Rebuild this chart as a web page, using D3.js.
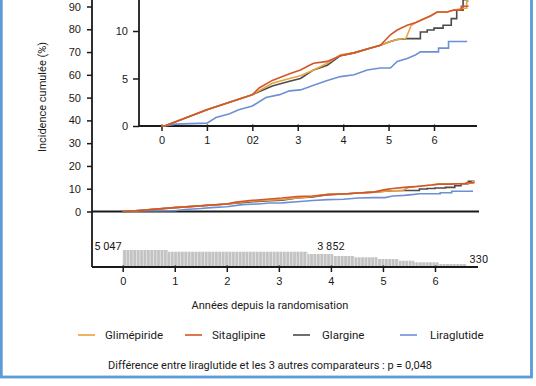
<!DOCTYPE html>
<html>
<head>
<meta charset="utf-8">
<script src="https://cdn.jsdelivr.net/npm/d3@7"></script>
<style>
body { margin: 0; background: #fff; }
svg { display: block; font-family: Roboto, "DejaVu Sans", sans-serif; }
</style>
</head>
<body>
<div id="chart"></div>
<script>
// cumulative incidence (%) by year since randomisation
let glimepiride = [[0,0],[0.07,0],[1,1.7],[2,3.3],[2.44,4.5],[2.82,5.0],[3.06,5.3],[3.35,5.9],[3.65,6.6],[3.94,7.5],[4.24,7.7],[4.53,8.1],[4.82,8.5],[5.04,8.9],[5.19,9.1],[5.38,9.2],[5.5,10.6],[5.6,10.9],[5.93,11.6],[6.07,12.0],[6.29,12.0],[6.44,12.2],[6.66,12.4],[6.72,12.4],[6.72,13.1],[6.76,13.1]];
let sitagliptine = [[0,0],[0.07,0],[1,1.7],[2,3.3],[2.15,4.0],[2.44,4.8],[2.82,5.5],[3.06,5.9],[3.26,6.4],[3.35,6.6],[3.65,6.8],[3.94,7.4],[4.24,7.7],[4.53,8.1],[4.82,8.5],[5.04,9.6],[5.19,10.1],[5.41,10.6],[5.6,10.9],[5.93,11.6],[6.07,12.0],[6.29,12.0],[6.44,12.2],[6.6,12.2],[6.6,12.6],[6.76,12.6]];
let glargine = [[0,0],[0.07,0],[1,1.7],[2,3.3],[2.44,4.2],[2.82,4.7],[3.06,5.0],[3.35,5.9],[3.65,6.4],[3.94,7.4],[4.24,7.7],[4.53,8.1],[4.82,8.5],[5.04,8.9],[5.19,9.1],[5.41,9.2],[5.7,9.2],[5.7,9.9],[5.85,9.9],[5.85,10.1],[6.0,10.1],[6.0,10.3],[6.2,10.3],[6.2,10.6],[6.38,10.6],[6.38,11.3],[6.5,11.3],[6.5,12.2],[6.64,12.2],[6.64,13.3],[6.76,13.3]];
let liraglutide = [[0,0],[0.07,0],[0.3,0.2],[1,0.3],[1.2,0.9],[1.5,1.3],[1.7,1.7],[2,2.1],[2.3,3.0],[2.6,3.3],[2.82,3.7],[3.06,3.8],[3.35,4.3],[3.65,4.8],[3.94,5.2],[4.24,5.4],[4.53,5.9],[4.82,6.1],[5.04,6.1],[5.19,6.8],[5.41,7.1],[5.6,7.5],[5.7,7.8],[6.1,7.8],[6.1,8.2],[6.32,8.2],[6.32,8.9],[6.73,8.9]];

let seriesNames = ["Glimépiride", "Sitaglipine", "Glargine", "Liraglutide"];
let seriesData = [glimepiride, sitagliptine, glargine, liraglutide];
let seriesColors = ["#e9a33c", "#d4552b", "#4b4b4b", "#6d90d3"];
let drawOrder = [3, 2, 0, 1];

// patients at risk
let riskStart = [0, 0.87, 3.55, 4.05, 4.45, 4.9, 5.3, 5.6, 6.07, 6.6];
let riskN = [5047, 4540, 3852, 3270, 2880, 2370, 1870, 1400, 890, 330];
let riskEndYear = 6.77;
let riskLabels = [["5 047", 0], ["3 852", 4], ["330", 6.77]];

let yearTicks = [0, 1, 2, 3, 4, 5, 6];
let insetTickLabels = ["0", "1", "02", "3", "4", "5", "6"];
let mainYTicks = [0, 10, 20, 30, 40, 50, 60, 70, 80, 90];
let insetYTicks = [0, 5, 10];

let width = 536, height = 386;
let txt = "#1a1a1a";
let fs = 11;

let svg = d3.select("#chart").append("svg")
  .attr("width", width)
  .attr("height", height);

let defs = svg.append("defs");
let pat = defs.append("pattern")
  .attr("id", "stripes")
  .attr("patternUnits", "userSpaceOnUse")
  .attr("width", 3.4).attr("height", 30);
pat.append("rect").attr("width", 3.4).attr("height", 30).attr("fill", "#c2c2c2");
pat.append("rect").attr("width", 0.9).attr("height", 30).attr("fill", "#e4e4e4");

// scales
let xMain = d3.scaleLinear().domain([0, 6]).range([122.7, 435]);
let yMain = d3.scaleLinear().domain([0, 90]).range([211.5, 6.5]);
let xIn = d3.scaleLinear().domain([0, 6]).range([161.5, 434]);
let yIn = d3.scaleLinear().domain([0, 10]).range([126, 31]);
let riskY = d3.scaleLinear().domain([0, 5047]).range([267, 250]);

// outer frame
svg.append("rect")
  .attr("x", 1.3).attr("y", -5)
  .attr("width", 530.2).attr("height", 382)
  .attr("fill", "none")
  .attr("stroke", "#5b9bd8")
  .attr("stroke-width", 2.8);

function styleAxis(g, size) {
  g.select(".domain").remove();
  g.selectAll("line").attr("stroke", "#1a1a1a").attr("stroke-width", 1.5);
  g.selectAll("text").attr("fill", txt).style("font-size", size + "px");
}

// ---- main chart ----
let yAxisMain = svg.append("g")
  .attr("transform", "translate(92,0)")
  .call(d3.axisLeft(yMain).tickValues(mainYTicks).tickSize(5).tickPadding(6));
styleAxis(yAxisMain, fs);

svg.append("line")
  .attr("x1", 92).attr("x2", 92).attr("y1", -2).attr("y2", 267)
  .attr("stroke", "#1a1a1a").attr("stroke-width", 1.8);
svg.append("line")
  .attr("x1", 92).attr("x2", 479).attr("y1", yMain(0)).attr("y2", yMain(0))
  .attr("stroke", "#1a1a1a").attr("stroke-width", 1.8);

// at risk bars
let riskBars = riskStart.map((s, i) => ({
  x0: s,
  x1: i < riskStart.length - 1 ? riskStart[i + 1] : riskEndYear,
  n: riskN[i]
}));
svg.append("g").selectAll("rect")
  .data(riskBars)
  .enter()
  .append("rect")
  .attr("x", d => xMain(d.x0))
  .attr("width", d => xMain(d.x1) - xMain(d.x0))
  .attr("y", d => riskY(d.n))
  .attr("height", d => riskY(0) - riskY(d.n))
  .attr("fill", "url(#stripes)");

svg.append("g").selectAll("text")
  .data(riskLabels)
  .enter()
  .append("text")
  .attr("x", (d, i) => i == 0 ? xMain(d[1]) - 1 : (i == 1 ? xMain(d[1]) : xMain(d[1]) + 13))
  .attr("y", (d, i) => i == 2 ? 262.5 : 250)
  .attr("text-anchor", (d, i) => i == 1 ? "middle" : "end")
  .attr("fill", txt)
  .style("font-size", fs + "px")
  .text(d => d[0]);

let xAxisMain = svg.append("g")
  .attr("transform", "translate(0,267)")
  .call(d3.axisBottom(xMain).tickValues(yearTicks).tickSize(5).tickPadding(5)
    .tickFormat(d3.format("d")));
styleAxis(xAxisMain, fs);
xAxisMain.selectAll(".tick line").attr("y1", -1.5);
svg.append("line")
  .attr("x1", 92).attr("x2", 478).attr("y1", 267).attr("y2", 267)
  .attr("stroke", "#1a1a1a").attr("stroke-width", 1.8);

let lineMain = d3.line().x(d => xMain(d[0])).y(d => yMain(d[1]));
svg.append("g").selectAll("path")
  .data(drawOrder)
  .enter()
  .append("path")
  .attr("d", i => lineMain(seriesData[i]))
  .attr("fill", "none")
  .attr("stroke", i => seriesColors[i])
  .attr("stroke-width", 1.6);

// ---- inset ----
let yAxisIn = svg.append("g")
  .attr("transform", "translate(139,0)")
  .call(d3.axisLeft(yIn).tickValues(insetYTicks).tickSize(6).tickPadding(5));
styleAxis(yAxisIn, fs);
svg.append("line")
  .attr("x1", 139).attr("x2", 139).attr("y1", -2).attr("y2", 126)
  .attr("stroke", "#1a1a1a").attr("stroke-width", 1.8);

let xAxisIn = svg.append("g")
  .attr("transform", "translate(0,126)")
  .call(d3.axisBottom(xIn).tickValues(yearTicks).tickSize(5).tickPadding(5)
    .tickFormat((d, i) => insetTickLabels[i]));
styleAxis(xAxisIn, fs);
xAxisIn.selectAll(".tick line").attr("y1", -1.5);
svg.append("line")
  .attr("x1", 139).attr("x2", 477).attr("y1", 126).attr("y2", 126)
  .attr("stroke", "#1a1a1a").attr("stroke-width", 1.8);

let lineIn = d3.line().x(d => xIn(d[0])).y(d => yIn(d[1]));
svg.append("g").selectAll("path")
  .data(drawOrder)
  .enter()
  .append("path")
  .attr("d", i => lineIn(seriesData[i]))
  .attr("fill", "none")
  .attr("stroke", i => seriesColors[i])
  .attr("stroke-width", 1.6);

// ---- titles ----
svg.append("text")
  .attr("transform", "translate(46,97) rotate(-90)")
  .attr("text-anchor", "middle")
  .attr("fill", txt)
  .style("font-size", "11px")
  .text("Incidence cumulée (%)");

svg.append("text")
  .attr("x", 270).attr("y", 309)
  .attr("text-anchor", "middle")
  .attr("fill", txt)
  .style("font-size", "11px")
  .text("Années depuis la randomisation");

// legend
let legendLineX = [78, 185, 293, 400];
let legendTextX = [105, 212, 322, 430];
let legend = svg.append("g").selectAll("g")
  .data(seriesNames)
  .enter()
  .append("g");
legend.append("line")
  .attr("x1", (d, i) => legendLineX[i])
  .attr("x2", (d, i) => legendLineX[i] + 17)
  .attr("y1", 335).attr("y2", 335)
  .attr("stroke", (d, i) => seriesColors[i])
  .attr("stroke-width", 1.6);
legend.append("text")
  .attr("x", (d, i) => legendTextX[i])
  .attr("y", 339)
  .attr("fill", txt)
  .style("font-size", "11.5px")
  .text(d => d);

svg.append("text")
  .attr("x", 270).attr("y", 369)
  .attr("text-anchor", "middle")
  .attr("fill", txt)
  .style("font-size", "11px")
  .text("Différence entre liraglutide et les 3 autres comparateurs : p = 0,048");
</script>
</body>
</html>
